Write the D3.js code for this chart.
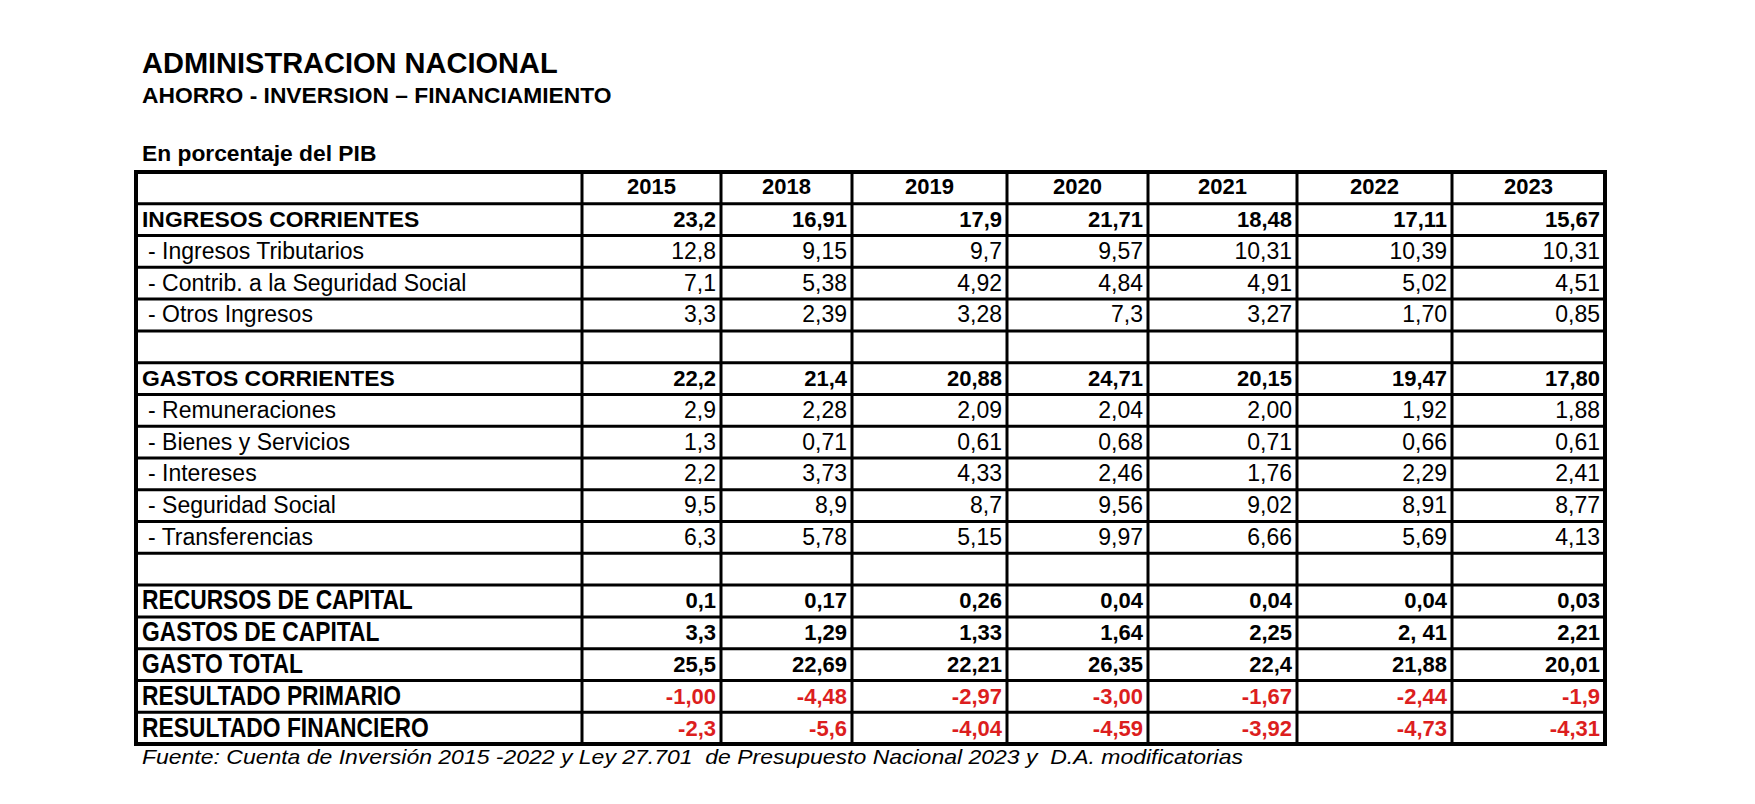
<!DOCTYPE html>
<html>
<head>
<meta charset="utf-8">
<script src="https://cdn.jsdelivr.net/npm/d3@7"></script>
<style>
  body { margin: 0; background: #fff; }
  text { font-family: Arial, "Liberation Sans", sans-serif; }
</style>
</head>
<body>
<div id="chart"></div>
<script>
const years = ["2015", "2018", "2019", "2020", "2021", "2022", "2023"];

const rowLabels = [
  "INGRESOS CORRIENTES", "- Ingresos Tributarios", "- Contrib. a la Seguridad Social", "- Otros Ingresos", "",
  "GASTOS CORRIENTES", "- Remuneraciones", "- Bienes y Servicios", "- Intereses", "- Seguridad Social", "- Transferencias", "",
  "RECURSOS DE CAPITAL", "GASTOS DE CAPITAL", "GASTO TOTAL", "RESULTADO PRIMARIO", "RESULTADO FINANCIERO"
];

// row kind: b = bold total, s = sub item, e = empty, c = capital block (condensed), r = result (red)
const rowKind = ["b","s","s","s","e","b","s","s","s","s","s","e","c","c","c","r","r"];

const v2015 = ["23,2","12,8","7,1","3,3","","22,2","2,9","1,3","2,2","9,5","6,3","","0,1","3,3","25,5","-1,00","-2,3"];
const v2018 = ["16,91","9,15","5,38","2,39","","21,4","2,28","0,71","3,73","8,9","5,78","","0,17","1,29","22,69","-4,48","-5,6"];
const v2019 = ["17,9","9,7","4,92","3,28","","20,88","2,09","0,61","4,33","8,7","5,15","","0,26","1,33","22,21","-2,97","-4,04"];
const v2020 = ["21,71","9,57","4,84","7,3","","24,71","2,04","0,68","2,46","9,56","9,97","","0,04","1,64","26,35","-3,00","-4,59"];
const v2021 = ["18,48","10,31","4,91","3,27","","20,15","2,00","0,71","1,76","9,02","6,66","","0,04","2,25","22,4","-1,67","-3,92"];
const v2022 = ["17,11","10,39","5,02","1,70","","19,47","1,92","0,66","2,29","8,91","5,69","","0,04","2, 41","21,88","-2,44","-4,73"];
const v2023 = ["15,67","10,31","4,51","0,85","","17,80","1,88","0,61","2,41","8,77","4,13","","0,03","2,21","20,01","-1,9","-4,31"];

const values = [v2015, v2018, v2019, v2020, v2021, v2022, v2023];

// --- layout ---
const width = 1755, height = 804;
const colEdges = [136, 582, 721, 852, 1007, 1148, 1297, 1452, 1605];
const tableTop = 172, tableBottom = 744;
const red = "#dc1e1e";

const svg = d3.select("#chart").append("svg")
  .attr("width", width)
  .attr("height", height)
  .style("background", "#fff");

// header row + data rows on a band scale
const y = d3.scaleBand()
  .domain(d3.range(rowLabels.length + 1))
  .range([tableTop, tableBottom])
  .padding(0);

const colLeft = d3.scaleOrdinal().domain(d3.range(colEdges.length)).range(colEdges);

// titles
svg.append("text").attr("x", 142).attr("y", 73)
  .style("font-size", "29px").style("font-weight", "bold")
  .text("ADMINISTRACION NACIONAL");
svg.append("text").attr("x", 142).attr("y", 103)
  .style("font-size", "22.8px").style("font-weight", "bold")
  .text("AHORRO - INVERSION \u2013 FINANCIAMIENTO");
svg.append("text").attr("x", 142).attr("y", 161)
  .style("font-size", "22.8px").style("font-weight", "bold")
  .text("En porcentaje del PIB");

let grid = svg.append("g");

// horizontal rules
grid.selectAll(".hline").data(d3.range(1, rowLabels.length + 1))
  .enter().append("line").attr("class", "hline")
  .attr("x1", colEdges[0]).attr("x2", colEdges[colEdges.length - 1])
  .attr("y1", d => y(d)).attr("y2", d => y(d))
  .attr("stroke", "#000").attr("stroke-width", 3);

// vertical rules
grid.selectAll(".vline").data(d3.range(1, colEdges.length - 1))
  .enter().append("line").attr("class", "vline")
  .attr("x1", d => colLeft(d)).attr("x2", d => colLeft(d))
  .attr("y1", tableTop).attr("y2", tableBottom)
  .attr("stroke", "#000").attr("stroke-width", 3);

// outer frame
grid.append("rect")
  .attr("x", colEdges[0]).attr("y", tableTop)
  .attr("width", colEdges[colEdges.length - 1] - colEdges[0])
  .attr("height", tableBottom - tableTop)
  .attr("fill", "none").attr("stroke", "#000").attr("stroke-width", 4);

const baseOff = 8.5;

// year headers
svg.selectAll(".year").data(years)
  .enter().append("text").attr("class", "year")
  .attr("x", (d, i) => (colLeft(i + 1) + colLeft(i + 2)) / 2)
  .attr("y", y(0) + y.bandwidth() - 9.5)
  .attr("text-anchor", "middle")
  .style("font-size", "22px").style("font-weight", "bold")
  .text(d => d);

// row labels
svg.selectAll(".label").data(rowLabels)
  .enter().append("text").attr("class", "label")
  .attr("transform", (d, i) => {
    let tx = rowKind[i] == "s" ? 148 : 142;
    let ty = y(i + 1) + y.bandwidth() - baseOff;
    if (rowKind[i] == "c" || rowKind[i] == "r") return "translate(" + tx + "," + (ty + 1) + ") scale(0.815,1)";
    return "translate(" + tx + "," + ty + ")";
  })
  .style("font-size", (d, i) => (rowKind[i] == "c" || rowKind[i] == "r") ? "28px" : (rowKind[i] == "s" ? "23px" : "22.9px"))
  .style("font-weight", (d, i) => rowKind[i] == "s" ? "normal" : "bold")
  .text(d => d);

// cell values
values.forEach(function(col, ci) {
  svg.selectAll(".val" + ci).data(col)
    .enter().append("text").attr("class", "val" + ci)
    .attr("x", colLeft(ci + 2) - 5)
    .attr("y", (d, i) => y(i + 1) + y.bandwidth() - baseOff)
    .attr("text-anchor", "end")
    .style("font-size", (d, i) => rowKind[i] == "s" ? "23px" : "22px")
    .style("font-weight", (d, i) => rowKind[i] == "s" ? "normal" : "bold")
    .style("fill", (d, i) => rowKind[i] == "r" ? red : "#000")
    .text(d => d);
});

// source note
svg.append("text").attr("x", 142).attr("y", 764)
  .attr("textLength", 1101).attr("lengthAdjust", "spacingAndGlyphs")
  .style("font-size", "21px").style("font-style", "italic")
  .style("white-space", "pre")
  .text("Fuente: Cuenta de Inversi\u00f3n 2015 -2022 y Ley 27.701  de Presupuesto Nacional 2023 y  D.A. modificatorias");
</script>
</body>
</html>
